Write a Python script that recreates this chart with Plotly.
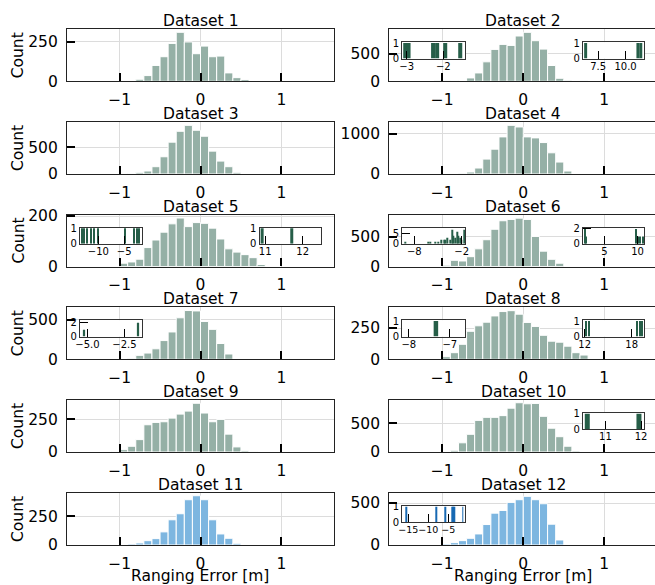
import plotly.graph_objects as go

W, H = 655, 585
BIN = 0.1

titles = ["Dataset %d" % i for i in range(1, 13)]
# lower edge of the first 0.1 m bin of each dataset, and counts per bin
first_edge = [-0.8, -1.2, -0.9, -0.8, -1.0, -1.0, -0.9, -1.0, -1.1, -0.9, -0.9, -1.0]
counts_1 = [13, 36, 100, 155, 239, 309, 248, 174, 222, 155, 159, 53, 23, 11]
counts_2 = [5, 8, 8, 10, 15, 61, 152, 354, 580, 671, 652, 823, 890, 738, 585, 287, 55, 18, 15, 10]
counts_3 = [8, 31, 56, 136, 321, 593, 796, 907, 815, 704, 426, 241, 136, 31]
counts_4 = [17, 50, 149, 372, 620, 926, 1215, 1174, 926, 901, 785, 529, 298, 74]
counts_5 = [13, 18, 29, 75, 105, 136, 169, 192, 158, 174, 171, 152, 109, 70, 57, 47, 35, 8]
counts_6 = [22, 104, 93, 165, 297, 450, 626, 769, 791, 813, 791, 505, 258, 121, 55]
counts_7 = [12, 50, 79, 133, 237, 346, 525, 617, 612, 479, 379, 200, 67]
counts_8 = [21, 53, 120, 224, 268, 297, 347, 382, 389, 361, 295, 263, 192, 145, 137, 105, 53, 34]
counts_9 = [3, 18, 44, 95, 209, 227, 232, 260, 291, 314, 374, 299, 232, 250, 137, 39, 10, 5]
counts_10 = [30, 161, 310, 554, 607, 607, 637, 768, 863, 845, 851, 625, 417, 268, 101, 18]
counts_11 = [9, 18, 38, 56, 115, 221, 274, 397, 432, 397, 221, 97, 59, 15]
counts_12 = [12, 28, 52, 80, 132, 244, 380, 412, 508, 540, 580, 540, 492, 248, 60]
all_counts = [counts_1, counts_2, counts_3, counts_4, counts_5, counts_6,
              counts_7, counts_8, counts_9, counts_10, counts_11, counts_12]
y_max = [328, 945, 969, 1298, 206, 874, 658, 416, 399, 911, 456, 620]
y_tick = [250, 500, 500, 1000, 200, 500, 500, 250, 250, 500, 250, 500]
x_ticks = [-1, 0, 1]
x_ticklabels = ["\u22121", "0", "1"]

# outlier insets: bin centres and counts
in_2L_x = [-3.04, -2.95, -2.28, -2.17, -1.95, -1.54]; in_2L_n = [1, 1, 1, 1, 1, 1]
in_2R_x = [6.37, 11.12, 11.38]; in_2R_n = [1, 1, 1]
in_5L_x = [-13.24, -12.79, -12.14, -11.49, -10.84, -10.06, -4.93, -3.04, -2.52, -2.13]
in_5L_n = [1, 1, 1, 1, 1, 1, 1, 1, 1, 1]
in_5R_x = [10.92, 11.71]; in_5R_n = [1, 1]
in_6L_x = [-9.18, -6.23, -6.0, -5.29, -4.96, -4.53, -4.2, -4.03, -3.77, -3.48, -3.19, -3.01,
           -2.85, -2.6, -2.43, -2.22, -2.0, -1.71]
in_6L_n = [1, 1, 1, 1, 1, 2, 2, 2, 3, 2, 7, 4, 3, 6, 4, 3, 2, 7]
in_6R_x = [2.02, 2.22, 9.74, 10.1, 10.41, 10.78]; in_6R_n = [2, 1, 2, 1, 1, 1]
in_7L_x = [-5.23, -1.58]; in_7L_n = [1, 2]
in_8L_x = [-7.34]; in_8L_n = [1]
in_8R_x = [12.21, 12.51, 18.72, 19.07, 19.37]; in_8R_n = [1, 1, 1, 1, 1]
in_10R_x = [10.49, 11.94]; in_10R_n = [1, 1]
in_12L_x = [-15.5, -7.9, -5.8, -3.9, -3.65, -3.4, -1.35]; in_12L_n = [1, 1, 1, 1, 1, 1, 1]

insets = [
    # dataset, side, xs, ns, xrange, yrange, xticks, xticklabels, yticks, bar width
    (2, "L", in_2L_x, in_2L_n, [-3.12, -1.41], [0, 1.05], [-3, -2], ["\u22123", "\u22122"], [0, 1], 0.11),
    (2, "R", in_2R_x, in_2R_n, [6.13, 11.7], [0, 1.05], [7.5, 10.0], ["7.5", "10.0"], [0, 1], 0.27),
    (5, "L", in_5L_x, in_5L_n, [-13.57, -1.55], [0, 1.05], [-10, -5], ["\u221210", "\u22125"], [0, 1], 0.2),
    (5, "R", in_5R_x, in_5R_n, [10.85, 12.49], [0, 1.05], [11, 12], ["11", "12"], [0, 1], 0.08),
    (6, "L", in_6L_x, in_6L_n, [-9.52, -1.58], [0, 8.1], [-8, -2], ["\u22128", "\u22122"], [0, 5], 0.12),
    (6, "R", in_6R_x, in_6R_n, [1.75, 11.03], [0, 2.2], [5, 10], ["5", "10"], [0, 2], 0.12),
    (7, "L", in_7L_x, in_7L_n, [-5.5, -1.31], [0, 2.35], [-5.0, -2.5], ["\u22125.0", "\u22122.5"], [0, 2], 0.15),
    (8, "L", in_8L_x, in_8L_n, [-8.16, -6.63], [0, 1.05], [-8, -7], ["\u22128", "\u22127"], [0, 1], 0.11),
    (8, "R", in_8R_x, in_8R_n, [11.78, 19.62], [0, 1.05], [12, 18], ["12", "18"], [0, 1], 0.12),
    (10, "R", in_10R_x, in_10R_n, [10.37, 12.09], [0, 1.05], [11, 12], ["11", "12"], [0, 1], 0.14),
    (12, "L", in_12L_x, in_12L_n, [-16.5, -0.8], [0, 1.05], [-15, -10, -5], ["\u221215", "\u221210", "\u22125"], [0, 1], 0.25),
]

GREEN, GREEN_D = "#95b0a6", "#265e48"
BLUE, BLUE_D = "#7db6e0", "#1769b3"
FONT = "DejaVu Sans"
FS = 15.5

col_px = [(67.0, 334.0, [-1.65, 1.65]), (389.3, 655.0, [-1.654, 1.626])]
row_top = [29.3, 122.0, 214.5, 307.3, 400.0, 493.0]
ROW_H = 52.0


def px_x(p):
    return p / W


def px_y(p):
    return 1 - p / H


fig = go.Figure()
layout = dict(width=W, height=H, margin=dict(l=0, r=0, t=0, b=0, autoexpand=False),
              paper_bgcolor="white", plot_bgcolor="white", showlegend=False,
              font=dict(family=FONT, size=FS, color="black"))
annotations = []

for i in range(12):
    r, c = divmod(i, 2)
    x0, x1, xr = col_px[c]
    top = row_top[r]
    n = i + 1
    sfx = "" if n == 1 else str(n)
    blue = n >= 11
    counts = all_counts[i]
    centers = [first_edge[i] + BIN * (k + 0.5) for k in range(len(counts))]
    fig.add_trace(go.Bar(x=centers, y=counts, width=BIN,
                         marker=dict(color=BLUE if blue else GREEN,
                                     line=dict(color="white", width=1)),
                         xaxis="x" + sfx, yaxis="y" + sfx))
    common = dict(showline=True, mirror=True, linecolor="#222", linewidth=1.3,
                  ticks="inside", ticklen=8, tickwidth=1.5, tickcolor="black",
                  showgrid=True, gridcolor="#dcdcdc", gridwidth=1, zeroline=False,
                  automargin=False,
                  tickfont=dict(size=FS, family=FONT, color="black"))
    layout["xaxis" + sfx] = dict(domain=[px_x(x0), px_x(x1)], range=xr, anchor="y" + sfx,
                                 tickvals=x_ticks, ticktext=x_ticklabels,
                                 ticklabelstandoff=4, **common)
    layout["yaxis" + sfx] = dict(domain=[px_y(top + ROW_H), px_y(top)], range=[0, y_max[i]],
                                 anchor="x" + sfx, tickvals=[0, y_tick[i]],
                                 ticklabelstandoff=5, **common)
    annotations.append(dict(text=titles[i], x=px_x((x0 + x1) / 2) if c == 0 else px_x(523.3),
                            y=px_y(top), xref="paper", yref="paper", xanchor="center",
                            yanchor="bottom", showarrow=False, yshift=-3,
                            font=dict(size=FS, family=FONT, color="black")))
    if c == 0:
        annotations.append(dict(text="Count", x=px_x(18), y=px_y(top + ROW_H / 2), xref="paper",
                                yref="paper", xanchor="center", yanchor="middle", textangle=-90,
                                showarrow=False, font=dict(size=FS, family=FONT, color="black")))

for c, cx in enumerate([200.0, 523.3]):
    annotations.append(dict(text="Ranging Error [m]", x=px_x(cx), y=px_y(576.0), xref="paper",
                            yref="paper", xanchor="center", yanchor="middle", showarrow=False,
                            font=dict(size=FS, family=FONT, color="black")))

inset_x = {(0, "L"): (80.0, 142.0), (0, "R"): (259.5, 321.0),
           (1, "L"): (402.3, 465.0), (1, "R"): (583.0, 644.3)}

for j, (ds, side, xs, ns, xr, yr, xt, xtl, yt, bw) in enumerate(insets):
    n_ax = 13 + j
    sfx = str(n_ax)
    r, c = divmod(ds - 1, 2)
    x0, x1 = inset_x[(c, side)]
    top = row_top[r] + 13.0
    bot = row_top[r] + 29.3
    blue = ds >= 11
    # opaque white background of the inset panel (spans the axis range)
    fig.add_trace(go.Bar(x=[(xr[0] + xr[1]) / 2], y=[yr[1]], width=xr[1] - xr[0],
                         marker=dict(color="white", line=dict(width=0)), hoverinfo="skip",
                         xaxis="x" + sfx, yaxis="y" + sfx))
    fig.add_trace(go.Bar(x=xs, y=ns, width=bw,
                         marker=dict(color=BLUE_D if blue else GREEN_D, line=dict(width=0)),
                         xaxis="x" + sfx, yaxis="y" + sfx))
    small = 9.5 if len(xt) > 2 else 10
    common = dict(showline=True, mirror=True, linecolor="#333", linewidth=1.2,
                  ticks="inside", ticklen=8, tickwidth=1.2, tickcolor="black",
                  showgrid=False, zeroline=False, automargin=False)
    layout["xaxis" + sfx] = dict(domain=[px_x(x0), px_x(x1)], range=xr, anchor="y" + sfx,
                                 tickvals=xt, ticktext=xtl, ticklabelstandoff=-2, tickangle=0,
                                 tickfont=dict(size=small, family=FONT, color="black"), **common)
    layout["yaxis" + sfx] = dict(domain=[px_y(bot), px_y(top)], range=yr, anchor="x" + sfx,
                                 tickvals=yt, ticklabelstandoff=0,
                                 tickfont=dict(size=10, family=FONT, color="black"), **common)

layout["annotations"] = annotations
layout["barmode"] = "overlay"
fig.update_layout(**layout)
fig.write_html("out.html")
